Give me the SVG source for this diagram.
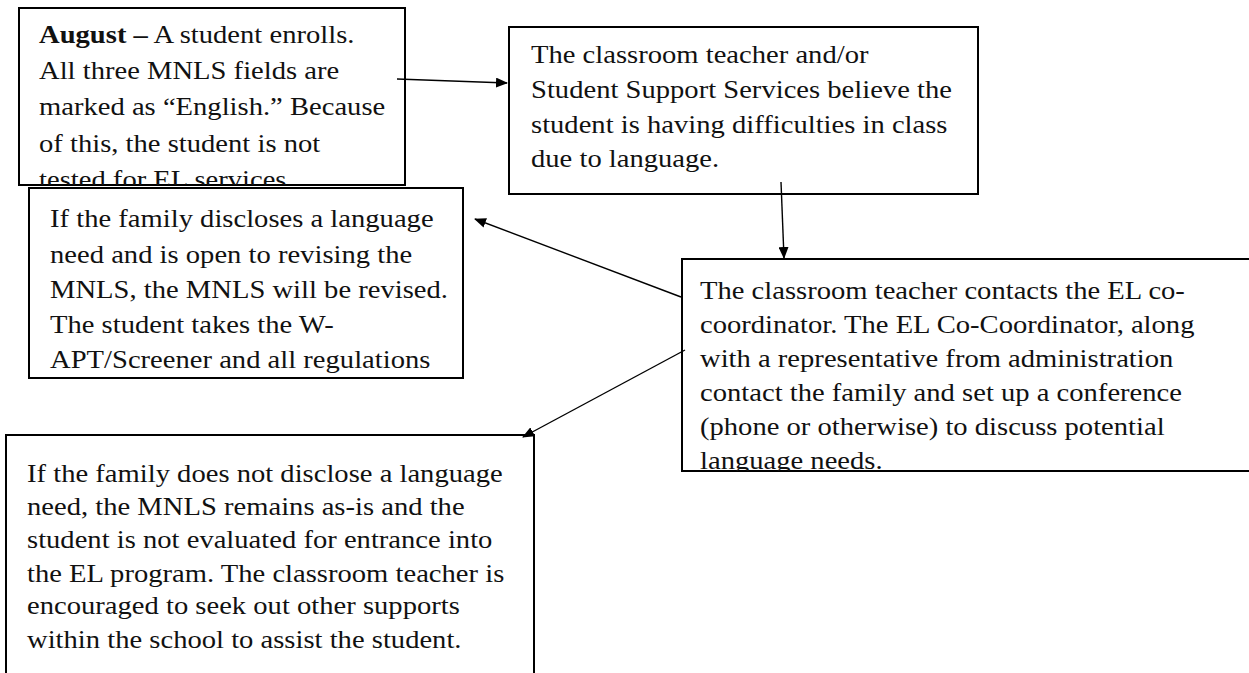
<svg xmlns="http://www.w3.org/2000/svg" width="1249" height="673" viewBox="0 0 1249 673">
<style>
.box{fill:#fff;stroke:#000;stroke-width:2}
.t{font-family:"Liberation Serif","Times New Roman",serif;font-size:25px;fill:#111}
.b{font-weight:bold}
.c{fill:none;stroke:#000;stroke-width:1.4}
</style>
<defs>
<marker id="ah" markerWidth="12" markerHeight="10" refX="11" refY="5" orient="auto" markerUnits="userSpaceOnUse"><path d="M0,0 L12,5 L0,10 z" fill="#000"/></marker>
<clipPath id="clip1"><rect x="19" y="8" width="386" height="177"/></clipPath>
<clipPath id="clip4"><rect x="682" y="259" width="580" height="212"/></clipPath>
</defs>
<rect width="1249" height="673" fill="#fff"/>
<g id="node-august">
<rect class="box" x="19" y="8" width="386" height="177"/>
<g clip-path="url(#clip1)"><g transform="translate(39 0) scale(1.144 1)" class="t">
<text x="0" y="43"><tspan class="b">August –</tspan> A student enrolls.</text>
<text x="0" y="79">All three MNLS fields are</text>
<text x="0" y="115">marked as “English.” Because</text>
<text x="0" y="152">of this, the student is not</text>
<text x="0" y="188">tested for EL services.</text>
</g></g>
</g>
<g id="node-teacher-believes">
<rect class="box" x="509" y="27" width="469" height="167"/>
<g transform="translate(531 0) scale(1.144 1)" class="t">
<text x="0" y="63">The classroom teacher and/or</text>
<text x="0" y="98">Student Support Services believe the</text>
<text x="0" y="133">student is having difficulties in class</text>
<text x="0" y="167">due to language.</text>
</g>
</g>
<g id="node-discloses">
<rect class="box" x="29" y="188" width="434" height="190"/>
<g transform="translate(50 0) scale(1.144 1)" class="t">
<text x="0" y="227">If the family discloses a language</text>
<text x="0" y="263">need and is open to revising the</text>
<text x="0" y="298">MNLS, the MNLS will be revised.</text>
<text x="0" y="333">The student takes the W-</text>
<text x="0" y="368">APT/Screener and all regulations</text>
</g>
</g>
<g id="node-contacts">
<rect class="box" x="682" y="259" width="580" height="212"/>
<g clip-path="url(#clip4)"><g transform="translate(700 0) scale(1.144 1)" class="t">
<text x="0" y="299">The classroom teacher contacts the EL co-</text>
<text x="0" y="333">coordinator. The EL Co-Coordinator, along</text>
<text x="0" y="367">with a representative from administration</text>
<text x="0" y="401">contact the family and set up a conference</text>
<text x="0" y="435">(phone or otherwise) to discuss potential</text>
<text x="0" y="469">language needs.</text>
</g></g>
</g>
<g id="node-not-disclose">
<rect class="box" x="6" y="435" width="528" height="260"/>
<g transform="translate(27 0) scale(1.144 1)" class="t">
<text x="0" y="482">If the family does not disclose a language</text>
<text x="0" y="515">need, the MNLS remains as-is and the</text>
<text x="0" y="548">student is not evaluated for entrance into</text>
<text x="0" y="582">the EL program. The classroom teacher is</text>
<text x="0" y="614">encouraged to seek out other supports</text>
<text x="0" y="648">within the school to assist the student.</text>
</g>
</g>
<g id="connectors">
<line class="c" x1="397" y1="79" x2="507" y2="83" marker-end="url(#ah)"/>
<line class="c" x1="781" y1="182" x2="784" y2="258" marker-end="url(#ah)"/>
<line class="c" x1="681" y1="297" x2="475" y2="219" marker-end="url(#ah)"/>
<line class="c" x1="685" y1="350" x2="523" y2="437" marker-end="url(#ah)"/>
</g>
</svg>
